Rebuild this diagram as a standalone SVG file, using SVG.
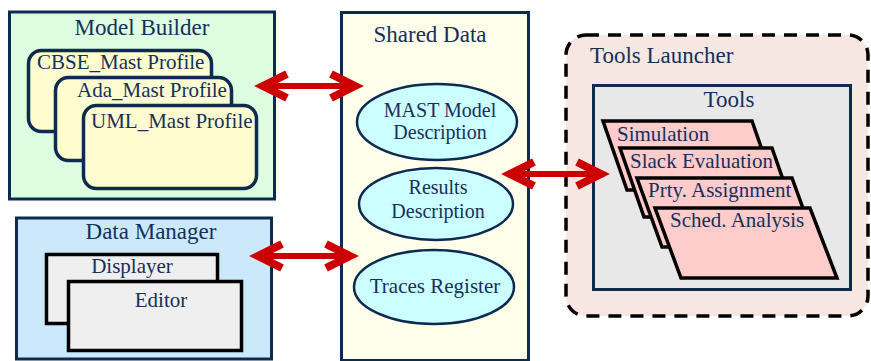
<svg xmlns="http://www.w3.org/2000/svg" width="871" height="361" viewBox="0 0 871 361">
<style>
text{font-family:"Liberation Serif","Times New Roman",serif;fill:#14305a}
.t{font-size:23px}
.s{font-size:21px}
.e{font-size:20px}
.box{stroke:#0d2a50;stroke-width:3}
.prof{fill:#fffdd0;stroke:#0d2a50;stroke-width:3.5}
.ell{fill:#ccffff;stroke:#0d2a50;stroke-width:2.5}
.win{fill:#efefef;stroke:#000;stroke-width:3.5}
.par{fill:#ffcccc;stroke:#000;stroke-width:3.5;stroke-linejoin:miter}
.shaft{stroke:#cc0000;stroke-width:6;fill:none}
.head{stroke:#cc0000;stroke-width:8;fill:none;stroke-linejoin:miter;stroke-miterlimit:10}
</style>
<g id="model-builder">
<rect class="box" x="9.5" y="12" width="265" height="187" fill="#defde0"/>
<text class="t" x="142" y="35" text-anchor="middle">Model Builder</text>
<g id="cbse"><rect class="prof" x="28.5" y="50.5" width="183" height="81" rx="13"/><text class="s" x="37" y="69">CBSE_Mast Profile</text></g>
<g id="ada"><rect class="prof" x="55.5" y="77.5" width="176" height="83" rx="13"/><text class="s" x="77" y="97">Ada_Mast Profile</text></g>
<g id="uml"><rect class="prof" x="83.5" y="105.5" width="173" height="83" rx="13"/><text class="s" x="91" y="128">UML_Mast Profile</text></g>
</g>
<g id="data-manager">
<rect class="box" x="16.5" y="218" width="255" height="141" fill="#cce9fc"/>
<text class="t" x="151" y="239" text-anchor="middle">Data Manager</text>
<g id="displayer"><rect class="win" x="46.5" y="254.5" width="171" height="69"/><text class="s" x="132" y="273" text-anchor="middle">Displayer</text></g>
<g id="editor"><rect class="win" x="68.5" y="281.5" width="173" height="69"/><text class="s" x="161" y="307" text-anchor="middle">Editor</text></g>
</g>
<g id="shared-data">
<rect class="box" x="341.5" y="12.5" width="187" height="348" fill="#fffeea"/>
<text class="t" x="430" y="42" text-anchor="middle">Shared Data</text>
<g id="mast-model"><ellipse class="ell" cx="437" cy="122" rx="80" ry="38"/><text class="e" x="440" y="117" text-anchor="middle">MAST Model</text><text class="e" x="440" y="139" text-anchor="middle">Description</text></g>
<g id="results"><ellipse class="ell" cx="436" cy="204" rx="77" ry="36"/><text class="e" x="438" y="194" text-anchor="middle">Results</text><text class="e" x="438" y="218" text-anchor="middle">Description</text></g>
<g id="traces"><ellipse class="ell" cx="434" cy="287" rx="80" ry="37"/><text class="s" x="435" y="293" text-anchor="middle">Traces Register</text></g>
</g>
<g id="tools-launcher">
<rect x="566" y="35" width="302" height="281" rx="20" fill="#f7e7e3" stroke="#000" stroke-width="3.5" stroke-dasharray="13,9"/>
<text class="t" x="590" y="63">Tools Launcher</text>
<g id="tools">
<rect class="box" x="593.5" y="85.5" width="257" height="204" fill="#e8e8e8"/>
<text class="t" x="729" y="107" text-anchor="middle">Tools</text>
<g id="simulation"><polygon class="par" points="603,121 752,121 776,190 627,190"/><text class="s" x="617" y="141">Simulation</text></g>
<g id="slack"><polygon class="par" points="620,148 772,148 796,217 644,217"/><text class="s" x="630" y="168">Slack Evaluation</text></g>
<g id="prty"><polygon class="par" points="637,178 792,178 817,247 662,247"/><text class="s" x="648" y="197">Prty. Assignment</text></g>
<g id="sched"><polygon class="par" points="655,208 810,208 837,278 681,278"/><text class="s" x="670" y="227">Sched. Analysis</text></g>
</g>
</g>
<g id="connectors">
<line class="shaft" x1="264" y1="86" x2="354" y2="86"/>
<polyline class="head" points="287,74 263,86 287,98"/>
<polyline class="head" points="331,74 355,86 331,98"/>
<line class="shaft" x1="259" y1="256" x2="349" y2="256"/>
<polyline class="head" points="282,244 258,256 282,268"/>
<polyline class="head" points="326,244 350,256 326,268"/>
<line class="shaft" x1="511" y1="174" x2="600" y2="174"/>
<polyline class="head" points="534,162 510,174 534,186"/>
<polyline class="head" points="577,162 601,174 577,186"/>
</g>
</svg>
